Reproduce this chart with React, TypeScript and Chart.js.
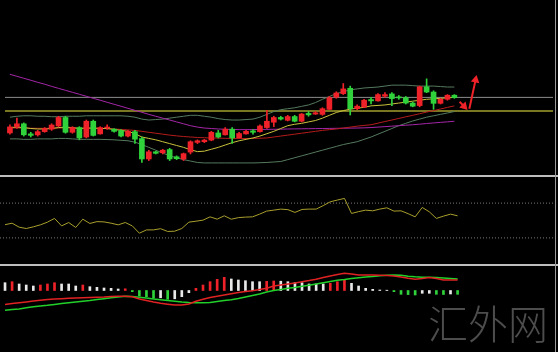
import React, { useEffect, useRef } from "react";
import { Chart, registerables } from "chart.js";

Chart.register(...registerables);

// ---------- horizontal extent (bar index units) ----------
const X_MIN = -0.71;
const X_MAX = 78.2;

// ---------- candles (price units) ----------
const opens = [39.3, 45.7, 49, 38.3, 37.3, 40.7, 43.3, 46.7, 55.7, 40,
  45, 35, 51.7, 38.3, 44.5, 43.3, 41.7, 36, 40.7, 33.3,
  11.7, 19.3, 18.3, 21.7, 14, 11.7, 19, 29.3, 30, 31.7,
  39.3, 37.3, 43.3, 34.3, 38.3, 41.5, 40.7, 45, 50.7, 55.7,
  52.7, 56.7, 51.7, 60, 59.3, 59, 64.3, 77.3, 81, 86.7,
  65, 66.7, 74.7, 73.3, 78.3, 80.7, 77.5, 76.7, 71, 68.3,
  88.3, 82.7, 70.7, 75, 79.3];
const closes = [45.7, 49, 37.3, 36.7, 40.7, 44, 47.7, 55.7, 40, 45,
  34, 51.7, 36.7, 45, 45.5, 41, 36, 41, 32.7, 11.7,
  19.3, 17.7, 21, 11.7, 12, 17.3, 30, 31, 31.7, 40,
  35, 43.3, 34, 38.7, 41, 40, 46.7, 51.7, 55.7, 54,
  56.7, 51.7, 59.3, 58.5, 60.7, 65, 76.7, 81.7, 86, 65,
  67.7, 74, 73.3, 80, 80, 75.7, 76.5, 71, 67.7, 88.3,
  82.7, 70.7, 75, 79.3, 76.7];
const highs = [48, 55, 50, 40, 42, 45, 49, 57, 57, 46,
  46, 53, 53, 46, 48, 44, 43, 42, 42, 35,
  21, 20, 22, 23, 15, 18, 31, 32, 32.5, 41,
  42, 45, 45, 40, 42, 43, 48, 63.3, 57, 57,
  58, 58, 60, 62, 62, 66, 78, 83, 91.7, 89,
  69, 75, 77, 81, 82, 82, 79, 78, 72, 89,
  96.7, 84, 76, 80, 80];
const lows = [38, 44, 36, 35, 36, 40, 42, 46, 39, 39,
  32, 34, 36, 38, 43, 40, 35, 35, 28.3, 8,
  10, 17, 17, 10, 11, 10, 17, 28, 29, 31,
  34, 37, 28.3, 34, 38, 38, 40, 44, 46, 53,
  52, 51, 51, 57, 59, 58, 64, 76, 80, 58.3,
  64, 66, 70, 73, 77, 68.3, 75, 70, 67, 67,
  82, 64.3, 70, 74, 76];

// ---------- moving averages / bands ----------
const maLong = [101.5, 99.4, 97.3, 95.2, 93, 91, 88.7, 86.6, 84.5, 82.4,
  80.3, 78.2, 76, 74, 71.8, 69.7, 67.6, 65.4, 63.3, 61.2,
  59, 57, 55, 53, 51, 49, 47, 45.5, 44.5, 44,
  43.5, 43.2, 43, 42.8, 42.8, 42.9, 43, 43.1, 43.2, 43.3,
  43.5, 43.6, 43.7, 43.8, 43.9, 44, 44.1, 44.2, 44.3, 44.4,
  44.5, 44.7, 45, 45.5, 46, 46.5, 47, 47.5, 48, 48.6,
  49.3, 49.9, 50.5, 51.1, 51.7];
const maMid = [44.5, 44.6, 44.5, 44.3, 44.2, 44.2, 44.3, 44.5, 44.6, 44.5,
  44.3, 44.3, 44.3, 44.2, 44, 43.5, 43, 42.5, 42, 41,
  40, 39, 38, 37, 36.2, 35.5, 35, 34.5, 34.2, 34,
  33.8, 33.6, 33.5, 33.4, 33.4, 33.5, 33.7, 34, 35, 36,
  37, 38, 39, 40, 41, 42, 42.8, 43.5, 44.5, 45.5,
  46.5, 47.3, 48, 49.7, 51.4, 53, 54.7, 56.4, 58, 59.7,
  61.4, 63, 64.7, 66.4, 68];
const maFast = [45, 45.5, 45, 44, 43.5, 43.5, 44, 45, 45.5, 45,
  44, 44.5, 44.5, 44, 44, 43, 42, 41, 38.5, 35,
  33.5, 32, 30, 28, 26, 24, 21.5, 19.5, 20, 22,
  24, 26.5, 29, 31, 32.5, 34, 36, 38.5, 41, 44,
  47, 48.5, 49.5, 51, 52.5, 55, 58, 61, 63, 64.5,
  65.5, 66.5, 68, 68.5, 69, 70, 71, 72, 73, 74,
  75, 75.5, 76, 76.5, 77];
const bandUpper = [56, 57, 57.5, 57.5, 57, 57, 56.5, 56.5, 57, 57,
  57, 57.5, 57.5, 57.5, 57.5, 57.5, 57.5, 57, 56, 54,
  53, 53.5, 54, 55, 56, 57, 58, 58, 57, 56,
  54.5, 53.5, 53, 53, 53.5, 54, 56, 59, 62, 64,
  65, 66, 67.5, 69, 71.5, 75, 78, 81, 83, 85,
  86, 87, 87.5, 88, 89, 90, 90, 90, 89.5, 89,
  89, 89, 88.5, 88, 88];
const bandLower = [33, 33, 32.5, 32.5, 33, 33, 33, 33.5, 33.5, 33,
  32.5, 32.5, 32.5, 32.5, 32.3, 32, 31.5, 31, 29.5, 27,
  24, 21, 18, 15, 13, 11, 9.5, 8, 7.5, 7.5,
  7.5, 7.5, 7.5, 7.5, 7.5, 7.5, 7.7, 8, 8.5, 9,
  11, 13, 15, 17, 19, 21, 23, 25, 27, 28.5,
  30, 32.5, 35, 38, 41, 44, 47, 49.5, 52, 54,
  56, 57.5, 59, 60.5, 62];

// horizontal price levels
const levelGray = 77;
const levelOlive = 62.5;

// arrows: [x, y] pairs in bar-index / price units
const arrowDown = [[64.74, 72.3], [65.4, 67.6]];
const arrowUp = [[66.15, 65], [67.05, 95.5]];

// ---------- RSI ----------
const rsi = [45.2, 46.9, 42.3, 40.8, 42.7, 45, 48.1, 52.4, 43.8, 47.7,
  42, 51.5, 46.6, 48.7, 48.4, 46.9, 45, 47.7, 43.8, 35.4,
  39.2, 39.2, 40.6, 37.4, 37.7, 40.8, 48.1, 49.2, 50.4, 54.2,
  51.5, 55.4, 51.5, 53.3, 53.9, 54.2, 57.3, 60.8, 61.9, 63.1,
  62.5, 59.3, 62.7, 63.1, 63.1, 67.1, 71.5, 73.5, 75.4, 58.1,
  60.2, 61.9, 61.1, 63.1, 64.6, 60.8, 61.1, 57.9, 54.2, 65,
  60, 52.4, 55, 57.3, 55.4];
const rsiLevels = [70, 30];

// ---------- MACD ----------
const macdHist = [7.8, 8.8, 6.5, 5.5, 4.5, 5.5, 6.5, 7.8, 6.5, 6.5,
  4.5, 5.5, 3.8, 3.2, 2.5, 2.2, 1.5, 1.7, -1.2, -5.5,
  -6.2, -7.8, -7.3, -8.8, -8.3, -6.2, -2.2, 2.2, 5.5, 8.8,
  11.2, 13.2, 11.5, 10.5, 9.8, 8.8, 8.8, 9.2, 9.5, 9.3,
  8.8, 7.8, 7.8, 6.5, 6.5, 6.5, 7.2, 8.8, 10.5, 7.2,
  4.5, 2.2, 1.2, 0.5, 0.3, -1.2, -3.8, -4.1, -4.5, -2.8,
  -2.8, -3.8, -4, -3.5, -3.8];
const macdFast = [-14, -13.1, -12.3, -11.4, -10.5, -9.7, -9, -8.6, -8.2, -7.8,
  -7.5, -7.2, -7, -6.7, -6.5, -6.1, -5.7, -5.7, -6.3, -8.5,
  -10, -11.5, -12.8, -13.7, -14.5, -14.5, -13.5, -10.8, -8.8, -7,
  -5.7, -4.5, -3.2, -2, -1, -0.3, 1, 2.3, 4.5, 5.5,
  6.5, 7.5, 8.7, 9.9, 11.3, 13, 14.5, 16, 17.2, 16.5,
  15.5, 15.5, 15.5, 15.3, 15, 14.5, 13.5, 12.2, 11.2, 12,
  13.1, 12, 10.5, 10.5, 10.5];
const macdSignal = [-19.8, -19.1, -18.5, -17.3, -16.2, -15.5, -14.8, -13.9, -13, -12.2,
  -11.5, -10.7, -10, -9.1, -8.2, -7.3, -6.5, -5.7, -6, -6.8,
  -7.5, -8.5, -9.2, -10, -10.8, -11.5, -12, -12.2, -12.2, -12,
  -11, -10, -9.2, -8, -6.5, -5, -3.5, -1.5, 0, 1,
  2.2, 3, 4.2, 5.3, 6.5, 7.7, 9, 10.2, 11, 12,
  12.7, 13.5, 14, 14.7, 15.3, 15.5, 15.2, 14.3, 13.7, 13.3,
  13.2, 12.9, 12.5, 12, 11.5];

// ---------- colours ----------
const RED = "#ee2228";
const GREEN = "#2fd23a";
const WHITE = "#e8e8e8";

const pts = (vals: number[]) => vals.map((v, i) => ({ x: i, y: v }));
const flat = (v: number) => [{ x: X_MIN, y: v }, { x: X_MAX, y: v }];

function lineDs(data: any[], color: string, width = 1, extra: any = {}) {
  return {
    type: "line",
    data,
    borderColor: color,
    borderWidth: width,
    pointRadius: 0,
    tension: 0,
    fill: false,
    order: 2,
    ...extra,
  };
}

function baseOptions(yMin: number, yMax: number) {
  return {
    responsive: false,
    maintainAspectRatio: false,
    animation: false,
    devicePixelRatio: 1,
    events: [],
    layout: { padding: 0 },
    plugins: { legend: { display: false }, tooltip: { enabled: false } },
    scales: {
      x: { type: "linear", min: X_MIN, max: X_MAX, display: false, offset: false },
      y: { type: "linear", min: yMin, max: yMax, display: false },
    },
  };
}

export default function App() {
  const mainRef = useRef<HTMLCanvasElement>(null);
  const rsiRef = useRef<HTMLCanvasElement>(null);
  const macdRef = useRef<HTMLCanvasElement>(null);

  useEffect(() => {
    const candleColors = opens.map((o, i) => (closes[i] >= o ? RED : GREEN));
    const arrowPts = (a: number[][]) => a.map(([x, y]) => ({ x, y }));

    const main = new Chart(mainRef.current as HTMLCanvasElement, {
      type: "bar",
      data: {
        datasets: [
          lineDs(arrowPts(arrowDown), RED, 2, {
            order: 0,
            pointRadius: [0, 5],
            pointStyle: "triangle",
            pointRotation: [0, 137],
            pointBackgroundColor: RED,
            pointBorderWidth: 0,
          }),
          lineDs(arrowPts(arrowUp), RED, 2, {
            order: 0,
            pointRadius: [0, 5],
            pointStyle: "triangle",
            pointRotation: [0, 12],
            pointBackgroundColor: RED,
            pointBorderWidth: 0,
          }),
          {
            type: "bar",
            data: opens.map((o, i) => ({ x: i, y: [o, closes[i]] })),
            backgroundColor: candleColors,
            barThickness: 5,
            grouped: false,
            minBarLength: 1,
            order: 0,
          },
          {
            type: "bar",
            data: lows.map((l, i) => ({ x: i, y: [l, highs[i]] })),
            backgroundColor: candleColors,
            barThickness: 1,
            grouped: false,
            order: 1,
          },
          lineDs(pts(maFast), "#c9c23c", 1),
          lineDs(pts(maMid), "#b41c1c", 1),
          lineDs(pts(maLong), "#a426a8", 1),
          lineDs(pts(bandUpper), "#557a5e", 1),
          lineDs(pts(bandLower), "#557a5e", 1),
          lineDs(flat(levelGray), "#8c8c8c", 1, { order: 3 }),
          lineDs(flat(levelOlive), "#a39f2e", 1.5, { order: 3 }),
        ],
      },
      options: baseOptions(0, 175) as any,
    } as any);

    const rsiChart = new Chart(rsiRef.current as HTMLCanvasElement, {
      type: "line",
      data: {
        datasets: [
          lineDs(pts(rsi), "#a89f2c", 1, { order: 0 }),
          ...rsiLevels.map((lv) =>
            lineDs(flat(lv), "#7a7a7a", 1, { borderDash: [1, 2], order: 3 })
          ),
        ],
      },
      options: baseOptions(0, 100) as any,
    } as any);

    const histColors = macdHist.map((v, i) => {
      const prev = i > 0 ? macdHist[i - 1] : v;
      if (v >= 0) return v > prev ? RED : WHITE;
      return v < prev ? GREEN : WHITE;
    });

    const macdChart = new Chart(macdRef.current as HTMLCanvasElement, {
      type: "bar",
      data: {
        datasets: [
          lineDs(pts(macdFast), "#e02222", 1.5, { order: 0 }),
          lineDs(pts(macdSignal), "#22d02a", 1.5, { order: 0 }),
          {
            type: "bar",
            data: pts(macdHist),
            backgroundColor: histColors,
            barThickness: 2,
            grouped: false,
            order: 1,
          },
        ],
      },
      options: baseOptions(-61.5, 24.5) as any,
    } as any);

    return () => {
      main.destroy();
      rsiChart.destroy();
      macdChart.destroy();
    };
  }, []);

  const abs = (extra: any) => ({ position: "absolute" as const, ...extra });

  return (
    <div
      style={{
        position: "fixed",
        left: 0,
        top: 0,
        width: 558,
        height: 352,
        background: "#000",
        overflow: "hidden",
      }}
    >
      <canvas ref={mainRef} width={558} height={175} style={abs({ left: 0, top: 0 })} />
      <canvas ref={rsiRef} width={558} height={87} style={abs({ left: 0, top: 177 })} />
      <canvas ref={macdRef} width={558} height={86} style={abs({ left: 0, top: 266 })} />
      <div style={abs({ left: 0, top: 175, width: 558, height: 2, background: "#bdbdbd" })} />
      <div style={abs({ left: 0, top: 264, width: 558, height: 2, background: "#bdbdbd" })} />
      <div style={abs({ left: 555, top: 0, width: 1, height: 352, background: "#9a9a9a" })} />
      <div
        style={abs({
          left: 428,
          top: 298,
          fontFamily: '"Noto Sans CJK SC", sans-serif',
          fontSize: 40,
          lineHeight: "48px",
          color: "#4d4d4d",
          fontWeight: 300,
          whiteSpace: "nowrap",
        })}
      >
        汇外网
      </div>
    </div>
  );
}
